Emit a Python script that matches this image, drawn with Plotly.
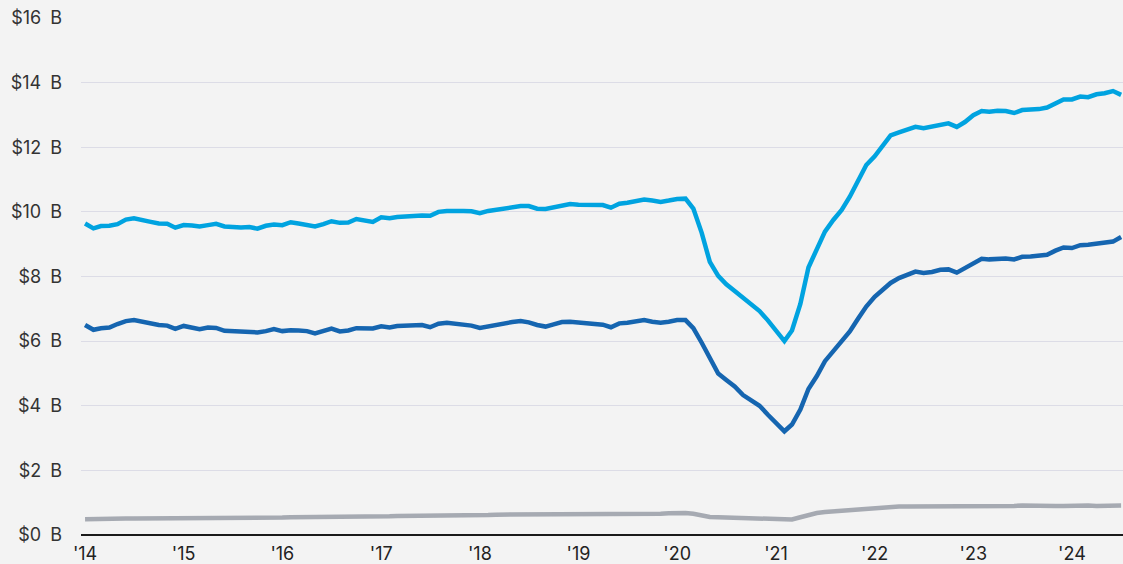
import pandas as pd
import plotly.graph_objects as go

months = pd.date_range("2014-01-01", "2024-07-01", freq="MS")

light_blue = [
    9.64, 9.49, 9.56, 9.57, 9.62, 9.76, 9.80, 9.76, 9.69, 9.64, 9.63, 9.51,
    9.59, 9.58, 9.55, 9.59, 9.63, 9.55, 9.52, 9.52, 9.53, 9.48, 9.57, 9.61,
    9.59, 9.68, 9.64, 9.60, 9.55, 9.62, 9.71, 9.66, 9.67, 9.78, 9.75, 9.69,
    9.83, 9.80, 9.84, 9.86, 9.89, 9.89, 9.88, 10.00, 10.03, 10.04, 10.03, 10.02,
    9.96, 10.03, 10.07, 10.12, 10.15, 10.18, 10.18, 10.10, 10.09, 10.14, 10.19, 10.24,
    10.22, 10.22, 10.22, 10.21, 10.13, 10.25, 10.28, 10.32, 10.38, 10.35, 10.31, 10.35,
    10.40, 10.41, 10.10, 9.35, 8.45, 8.02, 7.76, 7.55, 7.33, 7.15, 6.93, 6.65,
    6.32, 6.00, 6.33, 7.15, 8.28, 8.87, 9.39, 9.75, 10.06, 10.47, 10.99, 11.45,
    11.72, 12.05, 12.37, 12.46, 12.53, 12.63, 12.59, 12.63, 12.69, 12.74, 12.63, 12.78,
    12.99, 13.12, 13.10, 13.13, 13.12, 13.06, 13.15, 13.15, 13.18, 13.23, 13.36, 13.48,
    13.48, 13.57, 13.55, 13.64, 13.67, 13.74, 13.62,
]

dark_blue = [
    6.50, 6.35, 6.40, 6.42, 6.53, 6.62, 6.65, 6.60, 6.53, 6.50, 6.48, 6.38,
    6.47, 6.43, 6.37, 6.42, 6.41, 6.32, 6.31, 6.29, 6.29, 6.27, 6.31, 6.37,
    6.31, 6.34, 6.33, 6.31, 6.24, 6.31, 6.39, 6.30, 6.33, 6.40, 6.40, 6.39,
    6.46, 6.42, 6.47, 6.47, 6.47, 6.50, 6.43, 6.54, 6.57, 6.54, 6.51, 6.48,
    6.41, 6.46, 6.52, 6.56, 6.59, 6.62, 6.58, 6.50, 6.45, 6.52, 6.59, 6.60,
    6.58, 6.55, 6.55, 6.51, 6.43, 6.55, 6.57, 6.62, 6.65, 6.60, 6.57, 6.60,
    6.65, 6.65, 6.40, 5.95, 5.45, 5.00, 4.80, 4.60, 4.33, 4.15, 4.00, 3.73,
    3.46, 3.21, 3.42, 3.88, 4.52, 4.92, 5.38, 5.70, 6.00, 6.30, 6.70, 7.07,
    7.37, 7.60, 7.80, 7.95, 8.06, 8.15, 8.11, 8.14, 8.21, 8.22, 8.12, 8.27,
    8.40, 8.55, 8.53, 8.56, 8.56, 8.53, 8.61, 8.62, 8.65, 8.67, 8.80, 8.90,
    8.88, 8.97, 8.98, 9.02, 9.05, 9.08, 9.22,
]

gray = [
    0.49, 0.50, 0.50, 0.50, 0.51, 0.51, 0.51, 0.51, 0.51, 0.51, 0.51, 0.51,
    0.51, 0.52, 0.52, 0.52, 0.52, 0.52, 0.52, 0.53, 0.53, 0.53, 0.54, 0.54,
    0.54, 0.55, 0.55, 0.55, 0.55, 0.55, 0.56, 0.56, 0.56, 0.57, 0.57, 0.58,
    0.58, 0.58, 0.59, 0.59, 0.60, 0.60, 0.61, 0.61, 0.61, 0.62, 0.62, 0.62,
    0.62, 0.62, 0.63, 0.63, 0.63, 0.63, 0.63, 0.63, 0.64, 0.64, 0.64, 0.64,
    0.64, 0.64, 0.65, 0.65, 0.65, 0.65, 0.66, 0.66, 0.66, 0.66, 0.66, 0.67,
    0.68, 0.68, 0.66, 0.60, 0.56, 0.55, 0.54, 0.53, 0.52, 0.51, 0.50, 0.49,
    0.48, 0.47, 0.48, 0.55, 0.63, 0.68, 0.71, 0.73, 0.75, 0.77, 0.79, 0.81,
    0.84, 0.86, 0.87, 0.88, 0.88, 0.88, 0.88, 0.87, 0.87, 0.87, 0.87, 0.88,
    0.89, 0.89, 0.89, 0.90, 0.90, 0.90, 0.91, 0.90, 0.90, 0.90, 0.90, 0.90,
    0.91, 0.91, 0.91, 0.90, 0.91, 0.91, 0.91,
]

y_ticks = [0, 2, 4, 6, 8, 10, 12, 14, 16]
y_tick_labels = [f"${v}\u2002B" for v in y_ticks]

fig = go.Figure()
fig.add_trace(go.Scatter(x=months, y=gray, mode="lines",
                         line=dict(color="#A6AAB2", width=4.5), hoverinfo="skip"))
fig.add_trace(go.Scatter(x=months, y=dark_blue, mode="lines",
                         line=dict(color="#1565B0", width=4.5), hoverinfo="skip"))
fig.add_trace(go.Scatter(x=months, y=light_blue, mode="lines",
                         line=dict(color="#00A3E0", width=4.5), hoverinfo="skip"))

fig.update_layout(
    width=1123, height=564,
    margin=dict(l=81, r=0, t=18, b=29, autoexpand=False),
    paper_bgcolor="#F3F3F3", plot_bgcolor="#F3F3F3",
    showlegend=False,
    font=dict(family="Inter, 'Noto Sans', sans-serif", size=18, color="#333333"),
)
fig.update_xaxes(
    type="date",
    range=["2013-12-17", "2024-07-08"],
    tick0="2014-01-01", dtick="M12", tickformat="'%y",
    showgrid=False, zeroline=False, showline=False,
    ticks="", ticklabelstandoff=6,
    tickfont=dict(size=18, color="#222222"),
)
fig.update_yaxes(
    range=[0, 16],
    tickvals=y_ticks, ticktext=y_tick_labels,
    showgrid=True, gridcolor="#DCDCE6", gridwidth=1,
    zeroline=True, zerolinecolor="#1A1A1A", zerolinewidth=2,
    showline=False, ticks="", ticklabelstandoff=18,
    tickfont=dict(size=18, color="#333333"),
)

fig.write_html(
    "out.html",
    config={"displayModeBar": False},
    post_script="document.body.style.margin='0';document.body.style.padding='0';"
                "document.body.style.background='#F3F3F3';",
)
